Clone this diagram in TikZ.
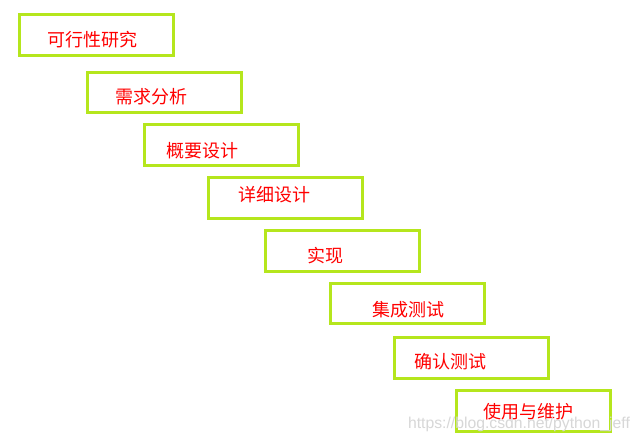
\documentclass[tikz,border=0pt]{standalone}
\usepackage{fontspec}
\setmainfont{Liberation Sans}
\newfontfamily\cjk{Noto Sans CJK SC}
\definecolor{boxgreen}{RGB}{181,230,29}
\definecolor{txtred}{RGB}{255,0,0}
\definecolor{wmgray}{RGB}{215,215,215}
\begin{document}
\begin{tikzpicture}[x=0.75pt,y=-0.75pt,
  stagebox/.style={draw=boxgreen,line width=2.25pt,minimum width=115.5pt,minimum height=30.5pt,inner sep=0pt},
  stagetext/.style={text=txtred,font=\cjk\fontsize{13.5pt}{15pt}\selectfont,inner sep=0pt}]
\useasboundingbox (0,0) rectangle (640,441);
\fill[white] (0,0) rectangle (640,441);
\node[stagebox] (b1) at (96,35) {};
\node[stagebox] (b2) at (164.5,92.5) {};
\node[stagebox] (b3) at (221,145) {};
\node[stagebox] (b4) at (285,198) {};
\node[stagebox] (b5) at (342,251) {};
\node[stagebox] (b6) at (407.5,303.5) {};
\node[stagebox] (b7) at (471,358) {};
\node[stagebox] (b8) at (533,411) {};
\node[stagetext] (t1) at (92,40) {可行性研究};
\node[stagetext] (t2) at (151.5,96.5) {需求分析};
\node[stagetext] (t3) at (202,151) {概要设计};
\node[stagetext] (t4) at (274,194.5) {详细设计};
\node[stagetext] (t5) at (325,255.5) {实现};
\node[stagetext] (t6) at (408,309.5) {集成测试};
\node[stagetext] (t7) at (450,361.5) {确认测试};
\node[stagetext] (t8) at (528,411.5) {使用与维护};
\node[text=wmgray,font=\fontsize{11.8pt}{13pt}\selectfont,inner sep=0pt] (wm) at (519,424) {https://blog.csdn.net/python\_jeff};
\end{tikzpicture}
\end{document}
